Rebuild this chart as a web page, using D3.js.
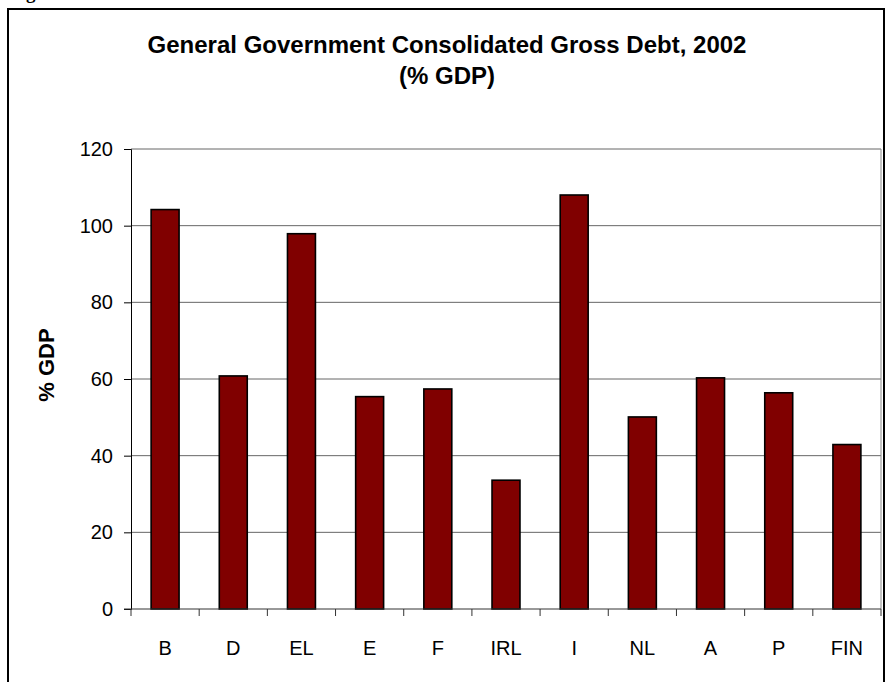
<!DOCTYPE html>
<html>
<head>
<meta charset="utf-8">
<script src="https://cdn.jsdelivr.net/npm/d3@7"></script>
<style>
  body { margin: 0; background: #fff; }
  svg { display: block; font-family: "Liberation Sans", Arial, sans-serif; }
</style>
</head>
<body>
<div class="container"></div>
<script>
const WIDTH = 886;
const HEIGHT = 682;

var countries = ["B", "D", "EL", "E", "F", "IRL", "I", "NL", "A", "P", "FIN"];
var debt = [104.2, 60.8, 97.9, 55.4, 57.4, 33.6, 108.0, 50.1, 60.3, 56.4, 42.9];
var yTicks = [0, 20, 40, 60, 80, 100, 120];
var titleLines = ["General Government Consolidated Gross Debt, 2002", "(% GDP)"];
var yTitle = "% GDP";

var translate = function(x, y) {
    return `translate(${x},${y})`;
};

var svg = d3.select('.container').append('svg')
    .attr('width', WIDTH)
    .attr('height', HEIGHT);

// caption above the frame, mostly outside the page
svg.append('text')
    .attr('x', 9)
    .attr('y', -1)
    .style('font-family', '"Liberation Serif", serif')
    .style('font-weight', 'bold')
    .style('font-size', '19px')
    .text('Figure');

// outer frame
svg.append('rect')
    .attr('x', 8)
    .attr('y', 9)
    .attr('width', 876)
    .attr('height', 690)
    .attr('fill', 'none')
    .attr('stroke', '#000')
    .attr('stroke-width', 2);

var xScale = d3.scaleBand()
    .domain(countries)
    .range([131, 881])
    .paddingInner(0.59)
    .paddingOuter(0.295);

var yScale = d3.scaleLinear()
    .domain([0, 120])
    .range([609, 149]);

// gridlines
svg.append('g')
    .selectAll('line')
    .data(yTicks.filter(d => d > 0))
    .enter()
    .append('line')
    .attr('x1', 131)
    .attr('x2', 881)
    .attr('y1', d => yScale(d))
    .attr('y2', d => yScale(d))
    .attr('stroke', '#666')
    .attr('stroke-width', 1);

// right plot border
svg.append('line')
    .attr('x1', 881).attr('x2', 881)
    .attr('y1', yScale(120)).attr('y2', yScale(0))
    .attr('stroke', '#888');

// bars
svg.append('g')
    .selectAll('rect')
    .data(countries)
    .enter()
    .append('rect')
    .attr('x', d => xScale(d))
    .attr('width', xScale.bandwidth())
    .attr('y', (d, i) => yScale(debt[i]))
    .attr('height', (d, i) => yScale(0) - yScale(debt[i]))
    .attr('fill', '#800000')
    .attr('stroke', '#000')
    .attr('stroke-width', 1.6);

// y axis
var yAxis = d3.axisLeft(yScale).tickValues(yTicks).tickSize(7).tickPadding(11);
var yG = svg.append('g')
    .attr('transform', translate(131, 0))
    .call(yAxis);
yG.select('.domain').attr('stroke', '#000');
yG.selectAll('.tick line').attr('stroke', '#000');
yG.selectAll('.tick text')
    .style('font-size', '20px')
    .attr('fill', '#000');

// x axis with ticks at category boundaries
var xG = svg.append('g')
    .attr('transform', translate(0, 609));
xG.append('line')
    .attr('x1', 124).attr('x2', 881)
    .attr('stroke', '#333');
var step = xScale.step();
var bounds = d3.range(countries.length + 1).map(i => 131 + i * step);
xG.selectAll('.xtick')
    .data(bounds)
    .enter()
    .append('line')
    .attr('class', 'xtick')
    .attr('x1', d => d).attr('x2', d => d)
    .attr('y1', 0).attr('y2', 7)
    .attr('stroke', '#333');
xG.selectAll('.xlabel')
    .data(countries)
    .enter()
    .append('text')
    .attr('class', 'xlabel')
    .attr('x', d => xScale(d) + xScale.bandwidth() / 2)
    .attr('y', 46)
    .attr('text-anchor', 'middle')
    .style('font-size', '20px')
    .text(d => d);

// title
svg.append('g')
    .selectAll('text')
    .data(titleLines)
    .enter()
    .append('text')
    .attr('x', 447)
    .attr('y', (d, i) => 53 + i * 31)
    .attr('text-anchor', 'middle')
    .style('font-weight', 'bold')
    .style('font-size', '24px')
    .text(d => d);

// y axis title
svg.append('text')
    .attr('transform', translate(54, 365) + ' rotate(-90)')
    .attr('text-anchor', 'middle')
    .style('font-weight', 'bold')
    .style('font-size', '22px')
    .text(yTitle);
</script>
</body>
</html>
